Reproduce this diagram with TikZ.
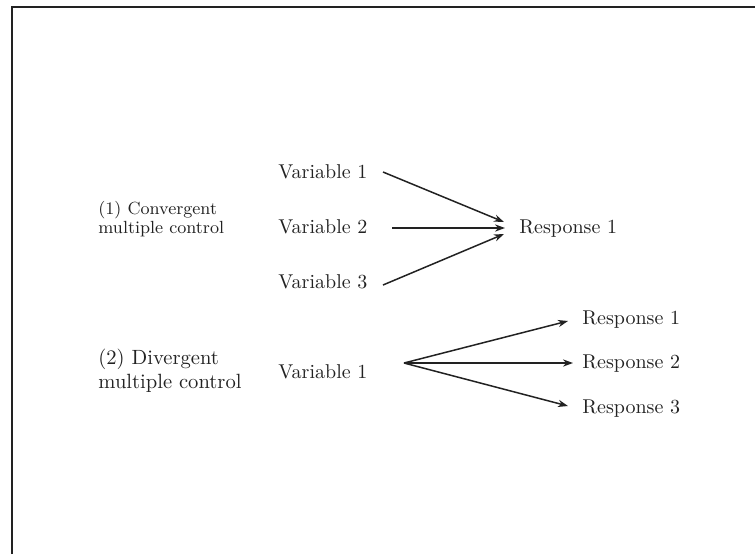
\documentclass[tikz,border=0pt]{standalone}
\usetikzlibrary{arrows.meta}
\definecolor{ink}{HTML}{222222}
\begin{document}
\begin{tikzpicture}[x=0.5pt,y=-0.5pt,
  lbl/.style={inner sep=0pt,text=ink,font=\fontsize{10}{12}\selectfont},
  lbl2/.style={lbl,align=left},
  arr/.style={draw=ink,line width=0.75pt,-{Stealth[length=5pt,width=3.6pt]}},
  frame/.style={draw=ink,line width=1pt}]
\useasboundingbox (0,0) rectangle (755,554);
\draw[frame] (11.5,554) -- (11.5,6.5) -- (755,6.5);
% convergent
\node[lbl2,anchor=base west,font=\fontsize{8.8}{9.5}\selectfont] (c1) at (98,233) {(1) Convergent\\multiple control};
\node[lbl,anchor=base west] (v1) at (278,178) {Variable 1};
\node[lbl,anchor=base west] (v2) at (278,233) {Variable 2};
\node[lbl,anchor=base west] (v3) at (278,288) {Variable 3};
\node[lbl,anchor=base west] (r1) at (519,233) {Response 1};
\coordinate (v1s) at (383,172);
\coordinate (v2s) at (392,228);
\coordinate (v3s) at (383,285);
\coordinate (r1a) at (504,222);
\coordinate (r1b) at (505,228);
\coordinate (r1c) at (504,234);
\draw[arr] (v1s) -- (r1a);
\draw[arr] (v2s) -- (r1b);
\draw[arr] (v3s) -- (r1c);
% divergent
\node[lbl2,anchor=base west,font=\fontsize{10.3}{12}\selectfont] (c2) at (98,388) {(2) Divergent\\multiple control};
\node[lbl,anchor=base west] (w1) at (278,378) {Variable 1};
\node[lbl,anchor=base west] (s1) at (582,324) {Response 1};
\node[lbl,anchor=base west] (s2) at (582,368) {Response 2};
\node[lbl,anchor=base west] (s3) at (582,413) {Response 3};
\coordinate (o) at (404,363);
\coordinate (s1a) at (568,321);
\coordinate (s2a) at (573,363);
\coordinate (s3a) at (568,406);
\draw[arr] (o) -- (s1a);
\draw[arr] (o) -- (s2a);
\draw[arr] (o) -- (s3a);
\end{tikzpicture}
\end{document}
